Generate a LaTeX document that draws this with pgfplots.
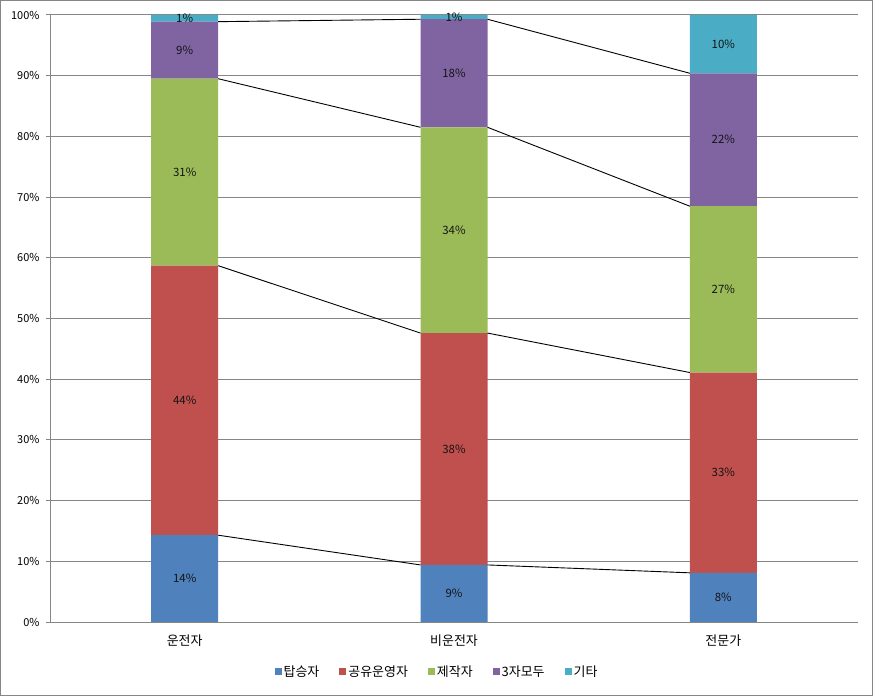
\documentclass[border=0pt]{standalone}
\usepackage{pgfplots}
\pgfplotsset{compat=1.18}
\usepackage{fontspec}
\setmainfont{Noto Sans CJK KR}
\definecolor{cA}{HTML}{4F81BD}
\definecolor{cB}{HTML}{C0504D}
\definecolor{cC}{HTML}{9BBB59}
\definecolor{cD}{HTML}{8064A2}
\definecolor{cE}{HTML}{4BACC6}
\definecolor{gridc}{HTML}{868686}
\definecolor{labelc}{HTML}{141414}
\begin{document}
\begin{tikzpicture}
\draw[gridc, line width=1bp] (0.5bp,0.5bp) rectangle (872.5bp,695.5bp);
\begin{axis}[
  at={(50bp,74bp)}, anchor=south west,
  width=808bp, height=607bp, scale only axis,
  ybar stacked, bar width=67bp,
  xmin=-0.5, xmax=2.5, ymin=0, ymax=100, enlargelimits=false,
  xtick={0,1,2}, xticklabels={운전자,비운전자,전문가},
  ytick={0,10,...,100}, yticklabel={\pgfmathprintnumber{\tick}\%},
  /pgf/number format/assume math mode=true,
  axis x line*=bottom, axis y line*=left,
  axis line style={draw=gridc, line width=1bp, -},
  tick align=outside, major tick length=4bp,
  ytick style={draw=gridc, line width=1bp}, xtick style={draw=none},
  ymajorgrids, major grid style={draw=gridc, line width=1bp},
  yticklabel style={font=\fontsize{11}{13}\selectfont, text=black, xshift=-3bp},
  xticklabel style={font=\fontsize{13}{15}\selectfont, text=black, yshift=-5bp},
  visualization depends on=rawy \as \rawy,
  nodes near coords={\pgfmathprintnumber[fixed,precision=0]{\rawy}\%},
  every node near coord/.append style={font=\fontsize{11.5}{13}\selectfont, text=labelc, anchor=center},
  legend style={at={(0.479,-0.082)}, anchor=center, draw=none, legend columns=-1,
    font=\fontsize{13}{15}\selectfont, /tikz/every even column/.append style={column sep=18bp}},
  legend image code/.code={\fill[#1] (0bp,-3.5bp) rectangle (7bp,3.5bp);},
]
\addplot[fill=cA, draw=none] coordinates {(0,14.3) (1,9.4) (2,8.1)};
\addplot[fill=cB, draw=none] coordinates {(0,44.4) (1,38.2) (2,33.0)};
\addplot[fill=cC, draw=none] coordinates {(0,30.8) (1,33.9) (2,27.4)};
\addplot[fill=cD, draw=none] coordinates {(0,9.4) (1,17.8) (2,21.9)};
\addplot[fill=cE, draw=none] coordinates {(0,1.1) (1,0.7) (2,9.6)};
\legend{탑승자,공유운영자,제작자,3자모두,기타}
\end{axis}
\begin{axis}[
  at={(50bp,74bp)}, anchor=south west,
  width=808bp, height=607bp, scale only axis,
  xmin=-0.5, xmax=2.5, ymin=0, ymax=100, enlargelimits=false,
  hide axis, unbounded coords=jump,
]
\addplot[black, line width=0.9bp, mark=none] coordinates {(0.1244,14.3) (0.8756,9.4) (1,nan) (1.1244,9.4) (1.8756,8.1)};
\addplot[black, line width=0.9bp, mark=none] coordinates {(0.1244,58.7) (0.8756,47.6) (1,nan) (1.1244,47.6) (1.8756,41.1)};
\addplot[black, line width=0.9bp, mark=none] coordinates {(0.1244,89.5) (0.8756,81.5) (1,nan) (1.1244,81.5) (1.8756,68.5)};
\addplot[black, line width=0.9bp, mark=none] coordinates {(0.1244,98.9) (0.8756,99.3) (1,nan) (1.1244,99.3) (1.8756,90.4)};
\end{axis}
\end{tikzpicture}
\end{document}
